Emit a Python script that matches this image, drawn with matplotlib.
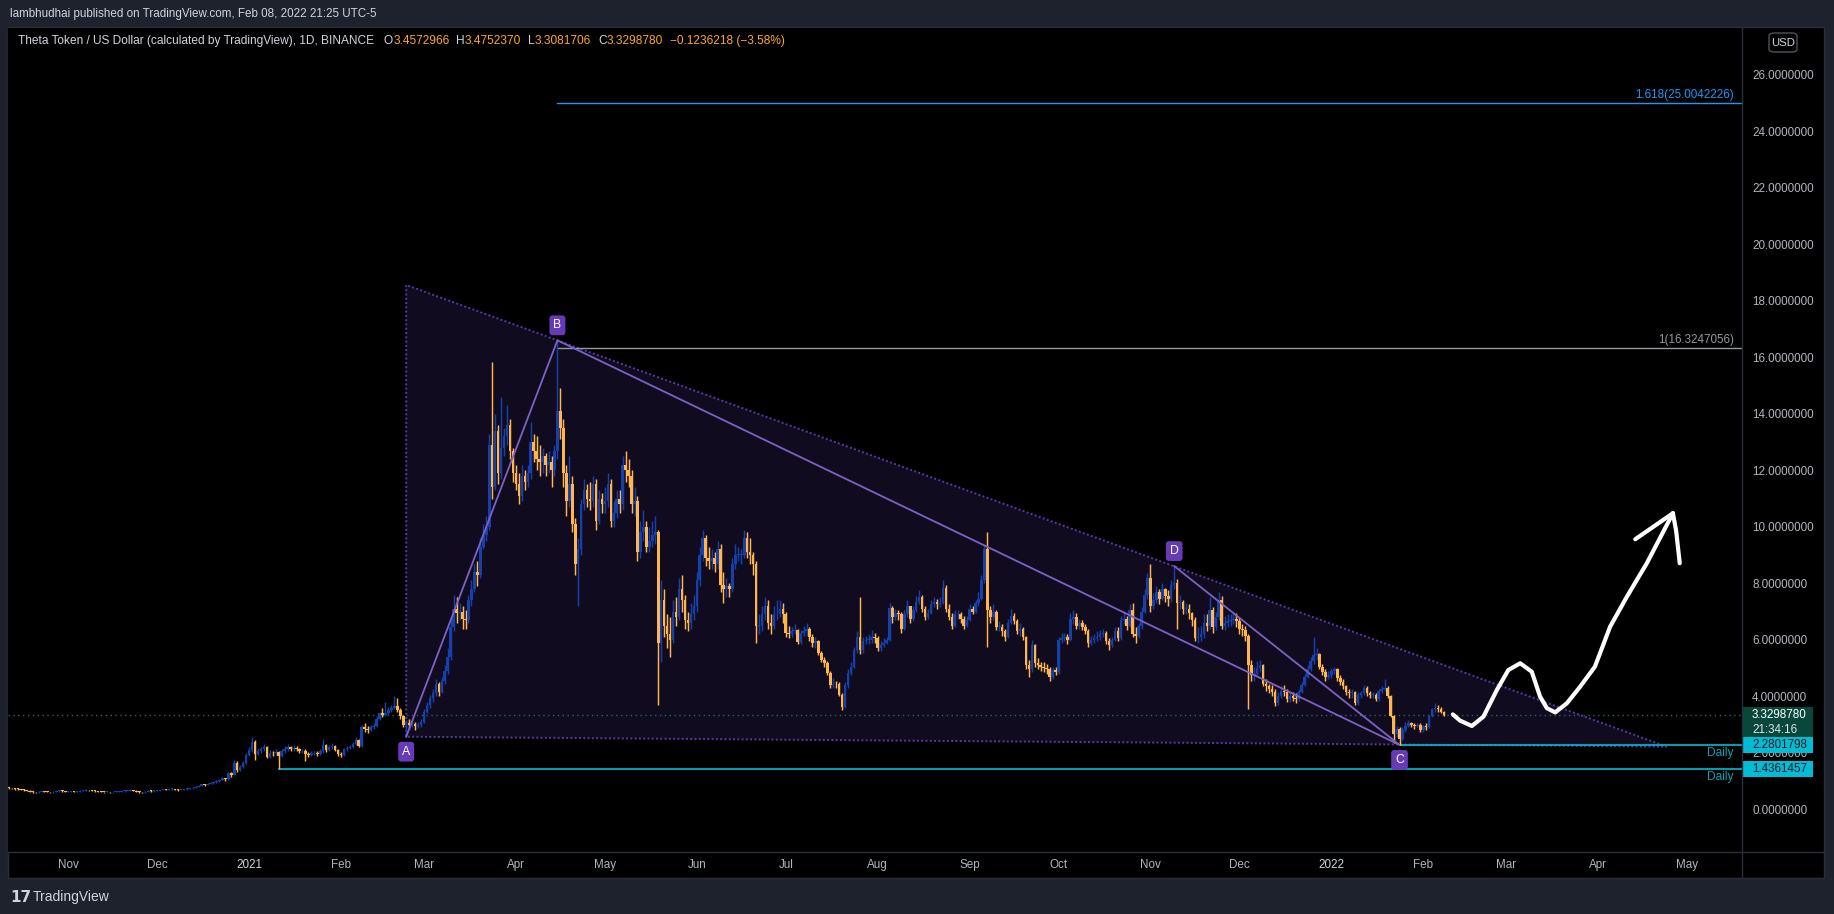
import numpy as np
import matplotlib
matplotlib.use("Agg")
import matplotlib.pyplot as plt
from matplotlib.patches import Rectangle, FancyBboxPatch, Polygon
from matplotlib.lines import Line2D
from matplotlib.transforms import blended_transform_factory

plt.rcParams['font.family'] = ['Liberation Sans', 'DejaVu Sans']

W, H = 1834, 914
BASE = np.datetime64('2021-01-01')

# ---------------- data (daily THETA/USD) ----------------
first_open = 0.76

c_2020_10 = [0.75,0.74,0.72,0.71,0.70, 0.68,0.66,0.63,0.61,0.60, 0.62,0.64,0.63,0.62,0.60, 0.62,0.64,0.66,0.64,0.62]
h_2020_10 = [0.78,0.77,0.75,0.74,0.73, 0.71,0.69,0.67,0.64,0.63, 0.64,0.66,0.66,0.65,0.63, 0.64,0.66,0.68,0.67,0.65]
l_2020_10 = [0.73,0.72,0.70,0.69,0.68, 0.66,0.64,0.61,0.59,0.58, 0.59,0.61,0.61,0.60,0.58, 0.59,0.61,0.63,0.62,0.60]

c_2020_11 = [0.63,0.64,0.62,0.63,0.65, 0.66,0.68,0.67,0.66,0.64, 0.63,0.62,0.61,0.62,0.60, 0.61,0.62,0.63,0.64,0.65, 0.66,0.68,0.66,0.63,0.61, 0.60,0.62,0.65,0.64,0.66]
h_2020_11 = [0.65,0.66,0.65,0.65,0.67, 0.68,0.71,0.70,0.68,0.67, 0.65,0.64,0.63,0.64,0.63, 0.63,0.64,0.65,0.66,0.67, 0.68,0.71,0.70,0.67,0.64, 0.62,0.64,0.67,0.67,0.68]
l_2020_11 = [0.61,0.62,0.60,0.61,0.62, 0.64,0.65,0.65,0.64,0.62, 0.61,0.60,0.59,0.60,0.58, 0.59,0.60,0.61,0.62,0.63, 0.64,0.65,0.64,0.60,0.59, 0.58,0.59,0.61,0.62,0.63]

c_2020_12 = [0.66,0.68,0.70,0.69,0.71, 0.72,0.70,0.68,0.69,0.71, 0.72,0.74,0.76,0.80,0.84, 0.88,0.87,0.89,0.92,0.95, 0.99,1.04,1.10,1.06,1.27, 1.21,1.65,1.38,1.50,1.64, 1.92]
h_2020_12 = [0.68,0.70,0.72,0.72,0.73, 0.74,0.73,0.71,0.71,0.73, 0.74,0.76,0.79,0.83,0.87, 0.91,0.90,0.92,0.96,0.98, 1.03,1.08,1.15,1.12,1.33, 1.32,1.75,1.70,1.58,1.72, 2.00]
l_2020_12 = [0.64,0.66,0.68,0.67,0.69, 0.70,0.68,0.66,0.67,0.69, 0.70,0.72,0.73,0.75,0.79, 0.83,0.84,0.85,0.88,0.91, 0.94,0.98,1.02,1.01,1.05, 1.15,1.20,1.32,1.35,1.46, 1.60]

c_2021_01 = [2.10,2.39,1.97,2.08,2.12, 2.20,1.86,2.00,1.98,2.02, 1.90,2.05,2.15,2.20,2.12, 2.18,2.15,2.05,2.08,1.95, 1.92,1.98,2.00,1.96,2.05, 2.28,2.10,2.20,2.25,2.10, 1.95]
h_2021_01 = [2.20,2.57,2.45,2.18,2.22, 2.30,2.25,2.10,2.08,2.12, 2.06,2.12,2.25,2.32,2.24, 2.26,2.24,2.18,2.15,2.12, 2.02,2.05,2.08,2.05,2.12, 2.48,2.32,2.28,2.36,2.28, 2.15]
l_2021_01 = [1.88,2.02,1.76,1.92,2.00, 2.05,1.80,1.82,1.90,1.92, 1.436,1.85,2.00,2.08,2.05, 2.08,2.06,1.98,1.98,1.72, 1.85,1.88,1.92,1.88,1.92, 2.00,2.02,2.05,2.12,2.05, 1.88]

c_2021_02 = [1.92,2.12,2.18,2.20,2.30, 2.45,2.25,2.92,2.85,2.80, 2.90,2.95,3.20,3.40,3.35, 3.40,3.50,3.60,3.65,3.50, 3.30,3.00,3.05,2.98,3.02, 2.95,3.00,3.10]
h_2021_02 = [2.02,2.18,2.25,2.28,2.38, 2.55,2.48,3.00,3.05,2.95, 2.98,3.05,3.30,3.45,3.60, 3.80,3.62,3.70,4.00,3.95, 3.60,3.35,3.15,3.20,3.18, 3.10,3.08,3.20]
l_2021_02 = [1.85,1.90,2.08,2.12,2.18, 2.28,2.20,2.22,2.75,2.70, 2.76,2.85,2.92,3.15,3.25, 3.30,3.35,3.45,3.55,3.45, 3.20,2.90,2.57,2.85,2.90, 2.82,2.88,2.92]

c_2021_03 = [3.45,3.70,3.95,4.10,4.45, 4.15,4.55,4.90,5.40,6.45, 7.10,6.95,7.00,6.75,6.70, 7.40,7.80,8.40,8.30,9.30, 9.70,10.00,12.90,11.40,13.40, 11.90,12.80,13.20,13.60,12.70, 11.90]
h_2021_03 = [3.55,3.80,4.05,4.25,4.60, 4.50,4.70,5.10,5.70,6.80, 7.60,7.50,7.30,7.20,7.05, 7.60,8.10,8.70,8.80,9.60, 10.10,10.40,13.30,15.85,14.00, 13.60,14.60,13.50,14.30,13.80, 12.80]
l_2021_03 = [3.05,3.40,3.60,3.80,4.00, 4.00,4.10,4.45,4.80,5.30, 6.30,6.60,6.70,6.40,6.40, 6.60,7.20,7.70,7.90,8.20, 9.20,9.50,9.90,11.00,11.30, 11.50,11.70,12.50,12.90,12.40, 11.60]

c_2021_04 = [11.50,11.10,11.80,11.60,11.90, 13.00,12.70,12.40,12.30,12.50, 12.20,12.30,12.00,12.70,14.10, 13.50,11.90,10.90,11.50,10.10, 8.70,9.20,10.80,11.30,11.00, 10.90,11.50,10.20,11.00,10.80]
h_2021_04 = [12.20,11.90,12.20,12.00,12.20, 13.70,13.30,13.20,12.90,12.80, 12.60,12.70,12.50,12.90,16.60, 14.90,13.80,12.20,12.50,11.80, 10.30,9.60,11.00,11.70,11.50, 11.60,11.80,11.70,11.30,11.20]
l_2021_04 = [11.30,10.80,10.90,11.30,11.40, 11.70,12.30,12.00,11.80,11.90, 11.80,11.90,11.40,11.80,12.40, 13.10,11.40,10.40,10.70,9.80, 8.30,7.20,9.00,10.60,10.70, 10.60,10.70,9.90,10.10,10.50]

c_2021_05 = [10.90,11.50,10.20,10.50,11.00, 10.80,12.20,12.00,11.80,10.80, 10.90,9.10,9.80,10.00,9.30, 9.50,9.70,9.80,5.90,7.40, 6.50,6.20,6.00,7.00,6.80, 7.80,7.40,6.70,6.60,6.90, 7.20]
h_2021_05 = [11.40,11.90,11.70,10.90,11.30, 11.30,12.50,12.70,12.40,12.00, 11.40,11.10,10.20,10.60,10.20, 10.00,10.20,10.40,9.90,8.10, 7.80,6.90,6.80,7.40,7.50, 8.20,8.30,7.60,7.00,7.30, 7.60]
l_2021_05 = [10.50,10.70,10.00,10.00,10.30, 10.50,10.60,11.60,11.40,10.50, 10.40,8.80,8.90,9.50,9.10, 9.10,9.30,9.40,3.70,5.20, 6.10,5.70,5.40,5.90,6.50, 6.70,7.00,6.40,6.30,6.40, 6.70]

c_2021_06 = [8.10,9.00,9.60,8.90,8.80, 8.90,8.70,9.20,7.95,7.80, 7.90,7.80,8.70,9.00,9.00, 9.00,9.60,9.10,9.00,8.70, 6.50,6.50,6.90,7.20,6.60, 6.50,6.90,6.90,7.10,6.90]
h_2021_06 = [8.40,9.30,9.90,9.70,9.30, 9.20,9.10,9.50,9.40,8.40, 8.20,8.00,8.90,9.40,9.30, 9.20,9.90,9.80,9.60,9.10, 8.80,6.90,7.20,7.50,7.40, 6.90,7.20,7.40,7.40,7.30]
l_2021_06 = [7.00,7.90,8.80,8.60,8.50, 8.50,8.40,8.50,7.70,7.30, 7.50,7.50,7.70,8.50,8.80, 8.70,8.90,8.90,8.70,8.30, 5.90,6.20,6.30,6.70,6.40, 6.20,6.40,6.70,6.80,6.60]

c_2021_07 = [6.25,6.20,6.30,6.35,5.93, 6.23,6.30,6.38,6.10,5.88, 5.95,5.52,5.28,5.17,4.81, 4.40,4.45,4.42,4.05,3.63, 4.40,4.81,5.05,5.64,6.10, 5.64,5.95,6.00,6.00,6.10, 6.05]
h_2021_07 = [7.00,6.50,6.45,6.55,6.40, 6.35,6.50,6.60,6.45,6.20, 6.10,6.00,5.60,5.40,5.25, 4.90,4.65,4.55,4.50,4.10, 4.50,4.95,5.20,5.75,6.30, 7.50,6.10,6.15,6.20,6.35, 6.25]
l_2021_07 = [6.10,6.05,6.10,6.20,5.85, 5.85,6.15,6.15,5.95,5.75, 5.70,5.45,5.20,5.05,4.75, 4.30,4.30,4.30,4.00,3.52, 3.60,4.30,4.75,5.00,5.55, 5.50,5.55,5.85,5.85,5.90, 5.90]

c_2021_08 = [5.70,5.80,5.90,6.00,7.12, 6.82,6.95,6.90,6.40,6.90, 7.18,6.72,7.05,7.35,7.50, 7.10,6.80,6.95,7.25,7.35, 7.25,7.30,7.85,7.10,6.80, 6.50,6.90,6.90,6.75,6.50, 6.70]
h_2021_08 = [6.15,5.95,6.05,6.10,7.30, 7.20,7.10,7.05,7.00,7.05, 7.40,7.20,7.20,7.55,7.75, 7.60,7.20,7.10,7.40,7.50, 7.45,7.50,8.10,7.95,7.25, 6.95,7.05,7.05,7.00,6.85, 6.85]
l_2021_08 = [5.60,5.60,5.75,5.85,5.95, 6.60,6.70,6.70,6.25,6.35, 6.80,6.60,6.65,7.00,7.25, 7.00,6.70,6.75,6.90,7.15, 7.10,7.15,7.25,7.00,6.70, 6.40,6.45,6.75,6.60,6.40, 6.45]

c_2021_09 = [7.10,7.00,7.30,7.45,8.10, 9.20,7.05,6.80,7.00,6.45, 6.45,6.30,6.10,6.60,6.85, 6.65,6.30,6.40,6.10,5.10, 4.95,5.80,5.17,5.10,5.05, 5.00,4.95,4.67,4.93,4.85]
h_2021_09 = [7.25,7.20,7.40,7.70,8.30, 9.40,9.80,7.20,7.25,7.05, 6.65,6.55,6.40,6.75,7.10, 6.95,6.75,6.60,6.45,6.15, 5.30,6.00,5.85,5.35,5.20, 5.20,5.15,5.05,5.05,5.05]
l_2021_09 = [6.65,6.90,6.95,7.20,7.40, 8.00,5.76,6.60,6.70,6.35, 6.30,6.15,5.95,6.05,6.55, 6.55,6.20,6.15,6.00,4.95, 4.70,4.85,5.05,4.95,4.90, 4.85,4.80,4.55,4.60,4.75]

c_2021_10 = [6.00,6.05,6.10,6.00,6.75, 6.80,6.50,6.60,6.45,6.30, 5.90,5.98,6.05,6.10,6.20, 6.25,5.95,5.80,6.00,6.30, 6.05,6.70,6.75,6.50,7.05, 6.20,6.15,6.50,7.00,7.60, 8.20]
h_2021_10 = [6.10,6.25,6.25,6.20,6.95, 7.05,6.95,6.75,6.70,6.55, 6.40,6.15,6.20,6.30,6.35, 6.40,6.30,6.05,6.10,6.45, 6.45,6.85,7.00,6.85,7.25, 7.30,6.45,6.60,7.15,7.80, 8.35]
l_2021_10 = [4.80,5.90,5.95,5.85,5.95, 6.55,6.40,6.40,6.35,6.20, 5.75,5.80,5.90,5.95,6.00, 6.10,5.85,5.65,5.75,5.95, 5.95,6.00,6.55,6.35,6.45, 6.10,5.90,6.05,6.40,6.95, 7.45]

c_2021_11 = [7.20,7.40,7.70,7.45,7.80, 7.55,7.45,7.95,8.00,7.30, 7.35,7.10,7.10,6.95,6.70, 6.05,6.10,6.20,6.60,6.50, 7.05,6.45,6.80,7.40,6.50, 6.60,6.65,6.70,6.75,6.65]
h_2021_11 = [8.70,7.65,7.90,7.80,8.00, 7.85,7.75,8.10,8.61,8.15, 7.60,7.40,7.30,7.25,7.00, 6.80,6.45,6.50,6.90,6.90, 7.50,7.15,7.00,7.70,7.55, 6.85,6.90,6.90,6.95,6.95]
l_2021_11 = [7.00,7.10,7.30,7.25,7.40, 7.35,7.20,7.35,7.80,6.40, 7.10,6.90,6.90,6.75,6.50, 5.95,5.90,5.95,6.05,6.30, 6.40,6.25,6.35,6.70,6.40, 6.35,6.45,6.50,6.55,6.45]

c_2021_12 = [6.40,6.35,6.15,5.10,4.75, 4.80,5.00,5.10,4.45,4.35, 4.25,4.15,3.75,4.00,4.20, 4.15,3.90,4.00,3.95,3.90, 4.15,4.40,4.70,4.95,5.25, 5.45,5.50,5.05,4.85,4.70, 4.75]
h_2021_12 = [6.80,6.55,6.50,6.20,5.30, 5.05,5.25,5.30,5.15,4.60, 4.45,4.40,4.25,4.15,4.35, 4.40,4.25,4.20,4.15,4.10, 4.25,4.50,4.80,5.10,5.40, 6.10,5.70,5.55,5.15,4.95, 4.90]
l_2021_12 = [6.20,6.15,5.95,3.55,4.55, 4.55,4.70,4.85,4.35,4.20, 4.10,4.00,3.65,3.70,3.95, 4.00,3.80,3.80,3.85,3.75, 3.85,4.10,4.35,4.65,4.90, 5.15,5.30,4.95,4.75,4.55, 4.60]

c_2022_01 = [4.90,4.95,4.65,4.50,4.35, 4.15,4.10,4.15,3.75,4.05, 4.10,4.30,4.10,4.05,4.05, 3.90,4.20,4.25,4.30,4.00, 3.30,2.65,2.85,2.50,2.80, 2.95,3.05,3.00,2.95,3.00, 2.80]
h_2022_01 = [5.00,5.05,5.00,4.75,4.60, 4.40,4.25,4.25,4.20,4.15, 4.20,4.40,4.35,4.20,4.15, 4.10,4.25,4.35,4.60,4.35, 4.05,3.35,2.95,2.90,2.90, 3.10,3.15,3.10,3.05,3.05, 3.05]
l_2022_01 = [4.65,4.80,4.55,4.40,4.25, 4.05,3.95,3.95,3.70,3.70, 3.95,4.05,4.00,3.95,3.95, 3.85,3.85,4.10,4.20,3.95, 3.25,2.35,2.55,2.2801798,2.45, 2.75,2.90,2.90,2.85,2.90, 2.75]

c_2022_02 = [2.95,2.90,3.30,3.55,3.60,3.55,3.4572966,3.3298780]
h_2022_02 = [3.00,3.05,3.35,3.60,3.75,3.70,3.62,3.4752370]
l_2022_02 = [2.75,2.82,2.88,3.25,3.45,3.45,3.40,3.3081706]

month_starts = ['2020-10-12', '2020-11-01', '2020-12-01', '2021-01-01', '2021-02-01', '2021-03-01',
                '2021-04-01', '2021-05-01', '2021-06-01', '2021-07-01', '2021-08-01', '2021-09-01',
                '2021-10-01', '2021-11-01', '2021-12-01', '2022-01-01', '2022-02-01']
month_closes = [c_2020_10, c_2020_11, c_2020_12, c_2021_01, c_2021_02, c_2021_03, c_2021_04, c_2021_05,
                c_2021_06, c_2021_07, c_2021_08, c_2021_09, c_2021_10, c_2021_11, c_2021_12, c_2022_01, c_2022_02]
month_highs = [h_2020_10, h_2020_11, h_2020_12, h_2021_01, h_2021_02, h_2021_03, h_2021_04, h_2021_05,
               h_2021_06, h_2021_07, h_2021_08, h_2021_09, h_2021_10, h_2021_11, h_2021_12, h_2022_01, h_2022_02]
month_lows = [l_2020_10, l_2020_11, l_2020_12, l_2021_01, l_2021_02, l_2021_03, l_2021_04, l_2021_05,
              l_2021_06, l_2021_07, l_2021_08, l_2021_09, l_2021_10, l_2021_11, l_2021_12, l_2022_01, l_2022_02]

# axis ticks
ytick_vals = [0, 2, 4, 6, 8, 10, 12, 14, 16, 18, 20, 22, 24, 26]
month_ticks = ['2020-11-01', '2020-12-01', '2021-01-01', '2021-02-01', '2021-03-01', '2021-04-01',
               '2021-05-01', '2021-06-01', '2021-07-01', '2021-08-01', '2021-09-01', '2021-10-01',
               '2021-11-01', '2021-12-01', '2022-01-01', '2022-02-01', '2022-03-01', '2022-04-01', '2022-05-01']
month_labels = ['Nov', 'Dec', '2021', 'Feb', 'Mar', 'Apr', 'May', 'Jun', 'Jul', 'Aug', 'Sep', 'Oct',
                'Nov', 'Dec', '2022', 'Feb', 'Mar', 'Apr', 'May']

# drawings
tri_dates = ['2021-02-23', '2021-02-23', '2022-04-24']
tri_vals = [18.56, 2.57, 2.22]
abcd_dates = ['2021-02-23', '2021-04-15', '2022-01-24', '2021-11-09']
abcd_vals = [2.57, 16.60, 2.2801798, 8.61]
abcd_names = ['A', 'B', 'C', 'D']
abcd_label_dir = [-1, 1, -1, 1]
fib_start = '2021-04-15'
fib_levels = ['1', '1.618']
fib_prices = [16.3247056, 25.0042226]
fib_colors = ['#9598a1', '#2196f3']
level_starts = ['2022-01-24', '2021-01-11']
level_prices = [2.2801798, 1.4361457]
last_price = 3.3298780
countdown = '21:34:16'
# hand-drawn projection arrow (days after 2021-01-01, price)
arrow_days = [405.97, 408.4, 412.4, 416.3, 420.8, 424.7, 428.7, 432.6, 435.4, 437.7, 440.5,
              444.4, 448.9, 453.9, 459.0, 464.7, 471.4, 480.2]
arrow_vals = [3.36, 3.14, 2.95, 3.28, 4.22, 4.93, 5.17, 4.87, 3.99, 3.58, 3.43,
              3.75, 4.34, 5.05, 6.46, 7.53, 8.71, 10.48]
barb_left_days = [467.5, 480.2]
barb_left_vals = [9.56, 10.48]
barb_right_days = [480.2, 481.3, 482.5]
barb_right_vals = [10.48, 9.85, 8.71]

header = "lambhudhai published on TradingView.com, Feb 08, 2022 21:25 UTC-5"
symbol_title = "Theta Token / US Dollar (calculated by TradingView), 1D, BINANCE"
ohlc_parts = [("O", "3.4572966"), ("H", "3.4752370"), ("L", "3.3081706"), ("C", "3.3298780")]
change_text = "\u22120.1236218 (\u22123.58%)"

# ---------------- build series ----------------
def dnum(s):
    return float((np.datetime64(s) - BASE) / np.timedelta64(1, 'D'))

days, opens, closes, highs, lows = [], [], [], [], []
prev = first_open
for start, cs, hs, ls in zip(month_starts, month_closes, month_highs, month_lows):
    d0 = dnum(start)
    for i, (cv, hv, lv) in enumerate(zip(cs, hs, ls)):
        days.append(d0 + i)
        opens.append(prev)
        closes.append(cv)
        highs.append(hv)
        lows.append(lv)
        prev = cv
days = np.array(days); o = np.array(opens); c = np.array(closes)
hi = np.maximum(np.array(highs), np.maximum(o, c))
lo = np.minimum(np.array(lows), np.minimum(o, c))

UP = '#1640aa'
DOWN = '#ffb74d'
BG = '#1e222d'
TXT = '#b2b5be'

# ---------------- figure ----------------
fig = plt.figure(figsize=(W / 100, H / 100), dpi=100, facecolor=BG)

def fx(px):
    return px / W

def fy(py):
    return 1 - py / H

fig.add_artist(Rectangle((fx(8), fy(878)), (1824 - 8) / W, (878 - 27) / H, transform=fig.transFigure,
                         facecolor='black', edgecolor='#2a2e39', lw=1, zorder=-5))

ax = fig.add_axes([fx(8), fy(852), (1742 - 8) / W, (852 - 28) / H])
ax.set_facecolor('black')
for s in ax.spines.values():
    s.set_visible(False)
ax.set_xlim(-81.3, 503.5)
ax.set_ylim(-1.511, 27.656)

# separators
fig.add_artist(Line2D([fx(1742), fx(1742)], [fy(27), fy(878)], transform=fig.transFigure, color='#2a2e39', lw=1))
fig.add_artist(Line2D([fx(8), fx(1824)], [fy(852), fy(852)], transform=fig.transFigure, color='#2a2e39', lw=1))

# ticks
ax.yaxis.tick_right()
ax.set_yticks(ytick_vals)
ax.set_yticklabels([f'{v:.7f}' for v in ytick_vals])
ax.tick_params(axis='y', length=0, pad=7.2, labelsize=8.4, labelcolor=TXT)
ax.set_xticks([dnum(s) for s in month_ticks])
ax.set_xticklabels(month_labels)
ax.tick_params(axis='x', length=0, pad=5, labelsize=8.4, labelcolor=TXT)
for lbl in ax.get_xticklabels():
    if lbl.get_text().isdigit():
        lbl.set_color('#d1d4dc')

xr = ax.get_xlim()[1]

# triangle pattern
tri_x = [dnum(s) for s in tri_dates]
ax.add_patch(Polygon(list(zip(tri_x, tri_vals)), closed=True, facecolor='#110b1f', edgecolor='none', zorder=1))
tri_loop_x = tri_x + [tri_x[0]]
tri_loop_y = tri_vals + [tri_vals[0]]
ax.plot(tri_loop_x, tri_loop_y, color='#5a38a8', lw=1.4, ls=(0, (1, 1.2)), zorder=2)

# last price dotted line
ax.axhline(last_price, color='#1f6b5c', lw=1, ls=(0, (1, 2.5)), zorder=2)

# fib lines
fs = dnum(fib_start)
T = blended_transform_factory(fig.transFigure, ax.transData)
for lev, pr, col in zip(fib_levels, fib_prices, fib_colors):
    ax.plot([fs, xr], [pr, pr], color=col, lw=1, zorder=2)
    ax.annotate(f'{lev}({pr:.7f})', xy=(fx(1734), pr), xycoords=T, xytext=(0, 2), textcoords='offset pixels',
                ha='right', va='bottom', color=col, fontsize=8.4, annotation_clip=False)

# horizontal daily levels
for st, pr in zip(level_starts, level_prices):
    ax.plot([dnum(st), xr], [pr, pr], color='#00bcd4', lw=1.2, zorder=2)
    ax.annotate('Daily', xy=(fx(1734), pr), xycoords=T, xytext=(0, -2), textcoords='offset pixels',
                ha='right', va='top', color='#0aa3b6', fontsize=8.6, annotation_clip=False)

# candles
cols = np.where(c >= o, UP, DOWN)
ax.vlines(days, lo, hi, colors=cols, lw=1.05, zorder=4)
ax.bar(days, np.maximum(np.abs(c - o), 0.03), bottom=np.minimum(o, c), width=0.86, color=cols, lw=0, zorder=5)

# ABCD pattern
ab_x = [dnum(s) for s in abcd_dates]
ax.plot(ab_x, abcd_vals, color='#7d62c4', lw=1.3, zorder=6, solid_joinstyle='miter')
for xv, yv, nm, dr in zip(ab_x, abcd_vals, abcd_names, abcd_label_dir):
    ax.annotate(nm, xy=(xv, yv), xytext=(0, 15 * dr), textcoords='offset pixels', ha='center', va='center',
                color='white', fontsize=8.8, zorder=9,
                bbox=dict(boxstyle='round,pad=0.32,rounding_size=0.25', fc='#673ab7', ec='none'))

# hand-drawn arrow
for xs, ys in [(arrow_days, arrow_vals), (barb_left_days, barb_left_vals), (barb_right_days, barb_right_vals)]:
    ax.plot(xs, ys, color='white', lw=3.0, solid_capstyle='round', solid_joinstyle='round', zorder=8)

# price axis boxes
ppu = ax.transData.transform((0, 1))[1] - ax.transData.transform((0, 0))[1]
ax.add_patch(Rectangle((fx(1742), last_price - 21.3 / ppu), (1813 - 1742) / W, 30 / ppu, transform=T,
                       facecolor='#08483b', edgecolor='none', clip_on=False, zorder=10))
ax.text(fx(1752), last_price, f'{last_price:.7f}', transform=T, color='white', fontsize=8.4,
        ha='left', va='center', zorder=11, clip_on=False)
ax.text(fx(1752), last_price - 14.5 / ppu, countdown, transform=T, color='#e0e3eb', fontsize=8.4,
        ha='left', va='center', zorder=11, clip_on=False)
for pr in level_prices:
    ax.add_patch(Rectangle((fx(1742), pr - 8 / ppu), (1813 - 1742) / W, 16 / ppu, transform=T,
                           facecolor='#00bcd4', edgecolor='none', clip_on=False, zorder=10))
    ax.text(fx(1752), pr, f'{pr:.7f}', transform=T, color='#131722', fontsize=8.4,
            ha='left', va='center', zorder=11, clip_on=False)

# USD box
fig.add_artist(FancyBboxPatch((fx(1769), fy(52)), 28 / W, 19 / H, boxstyle='round,pad=0,rounding_size=0.003',
                              transform=fig.transFigure, facecolor='black', edgecolor='#50535e', lw=1))
fig.text(fx(1783), fy(42.5), 'USD', color='#d1d4dc', fontsize=8.2, ha='center', va='center')

# header texts
fig.text(fx(10), fy(14), header, color='#d1d4dc', fontsize=8.4, ha='left', va='center')
renderer = fig.canvas.get_renderer()

def put(xpx, s, col):
    t = fig.text(fx(xpx), fy(41), s, color=col, fontsize=8.6, ha='left', va='center')
    return xpx + t.get_window_extent(renderer).width

xp = put(18, symbol_title, '#d1d4dc') + 10
for k, v in ohlc_parts:
    xp = put(xp, k, '#d1d4dc')
    xp = put(xp, v, '#ffa726') + 7
put(xp, change_text, '#ffa726')

# footer logo
fig.text(fx(10), fy(897), '17', color='#d1d4dc', fontsize=11, fontweight='bold', ha='left', va='center',
         family=['DejaVu Sans'])
fig.text(fx(33), fy(897), 'TradingView', color='#d1d4dc', fontsize=10, ha='left', va='center')

fig.savefig('out.png', dpi=100, facecolor=BG)
